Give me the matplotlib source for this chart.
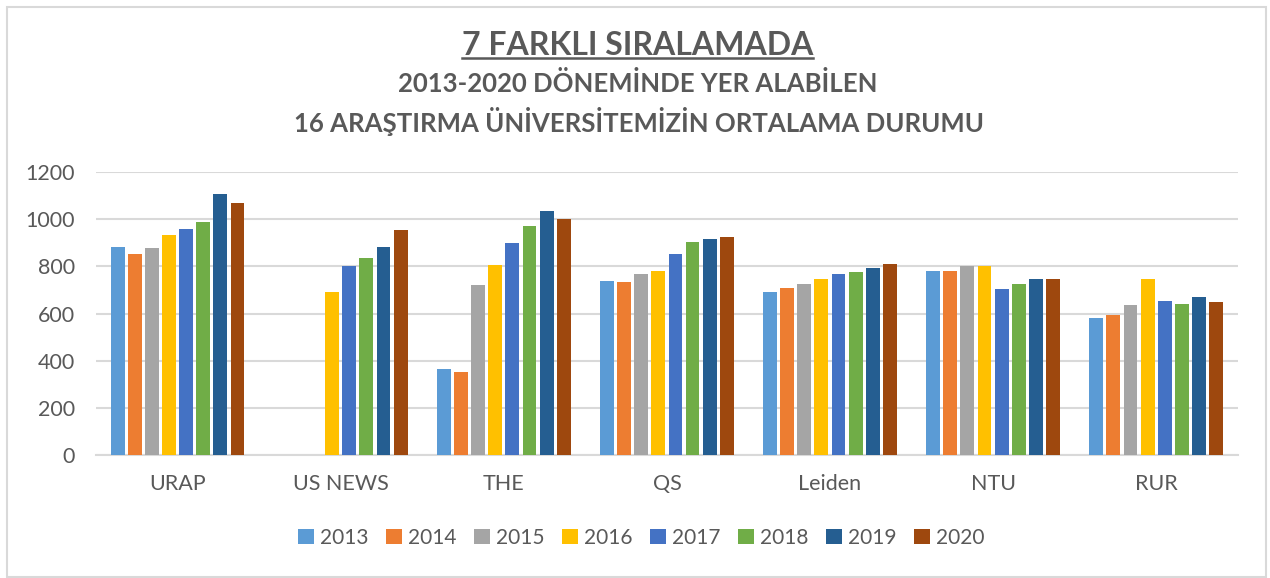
import numpy as np
import matplotlib
matplotlib.use('Agg')
import matplotlib.pyplot as plt
from matplotlib.lines import Line2D
from matplotlib.patches import Rectangle

plt.rcParams['font.family'] = ['Lato', 'DejaVu Sans']

# Rankings and yearly average positions
rankings = ['URAP', 'US NEWS', 'THE', 'QS', 'Leiden', 'NTU', 'RUR']
years = ['2013', '2014', '2015', '2016', '2017', '2018', '2019', '2020']

y2013 = [881, np.nan, 365, 738, 691, 782, 583]
y2014 = [852, np.nan, 350, 735, 709, 782, 593]
y2015 = [879, np.nan, 722, 767, 726, 801, 634]
y2016 = [935, 692, 807, 780, 748, 801, 746]
y2017 = [960, 801, 899, 852, 769, 705, 654]
y2018 = [990, 835, 969, 904, 777, 725, 641]
y2019 = [1108, 884, 1035, 916, 794, 746, 670]
y2020 = [1067, 952, 1001, 926, 811, 746, 648]
series = [y2013, y2014, y2015, y2016, y2017, y2018, y2019, y2020]

colors = ['#5B9BD5', '#ED7D31', '#A5A5A5', '#FFC000',
          '#4472C4', '#70AD47', '#255E91', '#9E480E']
text_color = '#595959'
grid_color = '#D9D9D9'

fig = plt.figure(figsize=(12.7, 5.78), dpi=100)
ax = fig.add_axes([0.0756, 0.2128, 0.899, 0.4896])

x = np.arange(len(rankings))
step = 0.105
width = 0.085
for i, (vals, year) in enumerate(zip(series, years)):
    offset = (i - (len(years) - 1) / 2) * step
    ax.bar(x + offset, vals, width, color=colors[i], label=year, zorder=3)

ax.set_xlim(-0.5, len(rankings) - 0.5)
ax.set_ylim(0, 1200)
ax.set_yticks(range(0, 1201, 200))
ax.set_xticks(x)
ax.set_xticklabels(rankings)
ax.grid(axis='y', color=grid_color, linewidth=1.5, zorder=0)
for side in ['top', 'right', 'left']:
    ax.spines[side].set_visible(False)
ax.spines['bottom'].set_color(grid_color)
ax.spines['bottom'].set_linewidth(1.5)
ax.tick_params(axis='both', length=0, labelsize=15.5, colors=text_color)
ax.tick_params(axis='y', pad=15)
ax.tick_params(axis='x', pad=14)

# Titles
t1 = fig.text(0.502, 0.922, '7 FARKLI SIRALAMADA', ha='center', va='center',
              fontsize=23, fontweight='bold', color=text_color)
fig.text(0.502, 0.855, '2013-2020 DÖNEMİNDE YER ALABİLEN', ha='center', va='center',
         fontsize=18.5, fontweight='bold', color=text_color)
fig.text(0.503, 0.789, '16 ARAŞTIRMA ÜNİVERSİTEMİZİN ORTALAMA DURUMU', ha='center',
         va='center', fontsize=18.5, fontweight='bold', color=text_color)

# underline for the main title
fig.canvas.draw()
bb = t1.get_window_extent().transformed(fig.transFigure.inverted())
fig.add_artist(Line2D([bb.x0, bb.x1], [bb.y0 + 0.003, bb.y0 + 0.003],
                      color=text_color, linewidth=1.8, transform=fig.transFigure))

leg = fig.legend(loc='center', bbox_to_anchor=(0.505, 0.069), ncol=8, frameon=False,
                 fontsize=15, handlelength=0.75, handleheight=0.75,
                 handletextpad=0.3, columnspacing=0.85)
for t in leg.get_texts():
    t.set_color(text_color)

# chart border
fig.add_artist(Rectangle((0.0055, 0.002), 0.9915, 0.986, transform=fig.transFigure,
                         fill=False, edgecolor=grid_color, linewidth=1.5))

fig.savefig('out.png', dpi=100)
